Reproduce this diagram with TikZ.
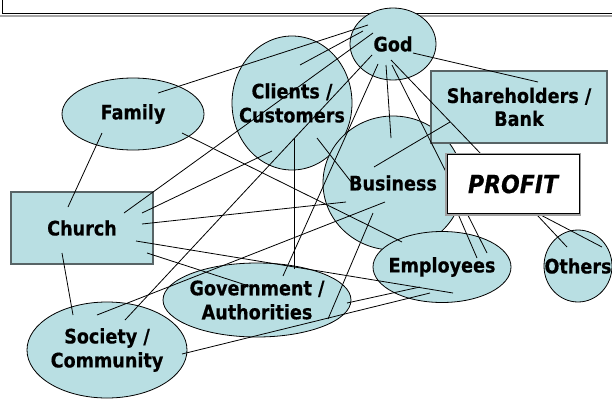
\documentclass[tikz,border=0pt]{standalone}
\usepackage{fontspec}
\newfontfamily\labelfont{DejaVu Sans}[FakeStretch=0.88,FakeBold=0.4]
\usetikzlibrary{shapes.geometric}
\pgfdeclarelayer{front}
\pgfsetlayers{main,front}
\definecolor{bubble}{RGB}{185,223,227}
\definecolor{boxedge}{RGB}{88,100,102}

\begin{document}
\begin{tikzpicture}[x=1pt,y=-1pt,
    stakeholder/.style={ellipse, draw, line width=0.8pt, fill=bubble, inner sep=-25pt, align=center,
        font=\labelfont\bfseries\fontsize{20}{24}\selectfont},
    groupbox/.style={rectangle, draw=boxedge, line width=1.3pt, fill=bubble, inner sep=0pt, align=center,
        font=\labelfont\bfseries\fontsize{20}{23}\selectfont},
    link/.style={line width=0.8pt}]
    \useasboundingbox (0,0) rectangle (612,399);

    % frame of the title above
    \draw[gray!70, line width=2pt] (0,15.5) -- (612,15.5);
    \draw[line width=1pt] (2,-10) rectangle (640,13.5);

    \node[stakeholder, minimum width=86pt, minimum height=72pt] (God) at (393,44) {God};
    \node[stakeholder, minimum width=120pt, minimum height=134pt] (Clients) at (292,103) {Clients /\\Customers};
    \node[stakeholder, minimum width=142pt, minimum height=72pt] (Family) at (133,114) {Family};
    \node[groupbox, minimum width=142pt, minimum height=72pt] (Church) at (82,228) {Church};
    \node[stakeholder, minimum width=188pt, minimum height=74pt] (Government) at (257,300) {Government /\\Authorities};
    \node[stakeholder, minimum width=160pt, minimum height=96pt] (Society) at (107,350) {Society /\\Community};
    \node[stakeholder, minimum width=140pt, minimum height=134pt] (Business) at (393,183) {Business};
    \node[groupbox, minimum width=176pt, minimum height=72pt] (Shareholders) at (519,107) {Shareholders /\\Bank};
    \node[stakeholder, minimum width=138pt, minimum height=71pt] (Employees) at (442,267) {Employees};
    \node[stakeholder, minimum width=68pt, minimum height=72pt] (Others) at (578,266) {Others};

    \begin{pgfonlayer}{front}
        \node[rectangle, fill=white, draw, line width=0.8pt, minimum width=132pt, minimum height=59pt,
            preaction={draw=gray!75, line width=4pt},
            font=\labelfont\bfseries\itshape\fontsize{25}{28}\selectfont] (Profit) at (513,184) {PROFIT};
    \end{pgfonlayer}

    % links to God
    \draw[link] ([shift={(25,-21)}]Family.center) -- ([shift={(-25,-19)}]God.center);
    \draw[link] ([shift={(8,-38)}]Clients.center) -- ([shift={(-30,-13)}]God.center);
    \draw[link] ([shift={(42,-15)}]Church.center) -- ([shift={(-20,-11)}]God.center);
    \draw[link] ([shift={(18,-30)}]Society.center) -- ([shift={(-21,11)}]God.center);
    \draw[link] ([shift={(26,-24)}]Government.center) -- ([shift={(-15,20)}]God.center);
    \draw[link] ([shift={(20,9)}]God.center) -- ([shift={(19,-25)}]Shareholders.center);
    \draw[link] ([shift={(-7,21)}]God.center) -- ([shift={(-2,-45)}]Business.center);
    \draw[link] ([shift={(-2,16)}]God.center) -- ([shift={(-31,-29)}]Profit.center);
    \draw[link] ([shift={(-1,21)}]God.center) -- ([shift={(45,-14)}]Employees.center);

    % links of the Church
    \draw[link] ([shift={(60,-15)}]Church.center) -- ([shift={(-20,48)}]Clients.center);
    \draw[link] ([shift={(-14,-21)}]Church.center) -- ([shift={(-31,19)}]Family.center);
    \draw[link] ([shift={(60,-4)}]Church.center) -- ([shift={(-47,19)}]Business.center);
    \draw[link] ([shift={(54,13)}]Church.center) -- ([shift={(11,26)}]Employees.center);
    \draw[link] ([shift={(65,25)}]Church.center) -- ([shift={(-5,-13)}]Government.center);
    \draw[link] ([shift={(-20,25)}]Church.center) -- ([shift={(-34,-35)}]Society.center);

    \draw[link] ([shift={(2,35)}]Clients.center) -- ([shift={(37,-31)}]Government.center);
    \draw[link] ([shift={(25,35)}]Clients.center) -- ([shift={(-41,0)}]Business.center);
    \draw[link] ([shift={(49,19)}]Family.center) -- ([shift={(9,59)}]Business.center);
    \draw[link] ([shift={(-10,-35)}]Society.center) -- ([shift={(-8,19)}]Business.center);
    \draw[link] ([shift={(75,4)}]Society.center) -- ([shift={(-12,26)}]Employees.center);
    \draw[link] ([shift={(71,19)}]Government.center) -- ([shift={(-20,30)}]Business.center);
    \draw[link] ([shift={(90,3)}]Government.center) -- ([shift={(-22,20)}]Employees.center);
    \draw[link] ([shift={(-19,-16)}]Business.center) -- ([shift={(-69,15)}]Shareholders.center);

    % from under the profit box
    \draw[link] ([shift={(-61,16)}]Profit.center) -- ([shift={(35,-9)}]Employees.center);
    \draw[link] ([shift={(10,16)}]Profit.center) -- ([shift={(-11,-19)}]Others.center);
    \draw[link] ([shift={(-1,16)}]Profit.center) -- ([shift={(24,-19)}]Others.center);
\end{tikzpicture}
\end{document}
